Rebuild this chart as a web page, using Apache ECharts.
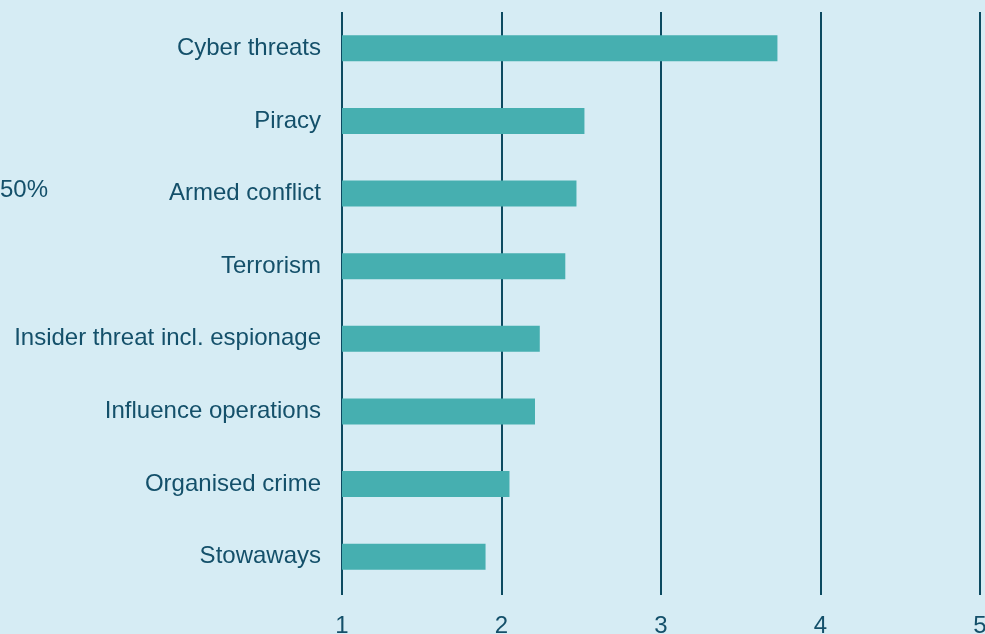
<!DOCTYPE html>
<html>
<head>
<meta charset="utf-8">
<script src="https://cdn.jsdelivr.net/npm/echarts@6/dist/echarts.min.js"></script>
<style>
html,body{margin:0;padding:0;background:#d6ecf4;}
#chart{width:985px;height:634px;}
</style>
</head>
<body>
<div id="chart"></div>
<script>
const categories = ["Cyber threats","Piracy","Armed conflict","Terrorism","Insider threat incl. espionage","Influence operations","Organised crime","Stowaways"];
const values = [3.73, 2.52, 2.47, 2.40, 2.24, 2.21, 2.05, 1.90];
const xTicks = [1, 2, 3, 4, 5];
const sideNote = "50%";

const navy = '#0c4a60';
const textColor = '#14506a';
const font = 'Liberation Sans, Arial, sans-serif';

const chart = echarts.init(document.getElementById('chart'));
chart.setOption({
  backgroundColor: '#d6ecf4',
  animation: false,
  grid: {left: 342, right: 5, top: 12, bottom: 41, containLabel: false, outerBoundsMode: 'none'},
  xAxis: {
    type: 'value',
    min: xTicks[0],
    max: xTicks[xTicks.length - 1],
    interval: 1,
    startValue: xTicks[0],
    axisLine: {show: false},
    axisTick: {show: true, inside: false, length: 2, lineStyle: {color: navy, width: 2}},
    splitLine: {show: true, lineStyle: {color: navy, width: 2}},
    axisLabel: {color: textColor, fontSize: 24, fontFamily: font, margin: 21,
      showMinLabel: true, showMaxLabel: true, hideOverlap: false}
  },
  yAxis: {
    type: 'category',
    data: categories,
    inverse: true,
    axisLine: {show: false},
    axisTick: {show: false},
    splitLine: {show: false},
    axisLabel: {color: textColor, fontSize: 24, fontFamily: font, margin: 21}
  },
  graphic: [{
    type: 'text',
    left: 0,
    top: 178,
    style: {text: sideNote, fill: textColor, font: '24px ' + font}
  }],
  series: [{
    type: 'bar',
    data: values,
    barWidth: 26,
    itemStyle: {color: '#46afb0'},
    clip: true
  }]
});
</script>
</body>
</html>
